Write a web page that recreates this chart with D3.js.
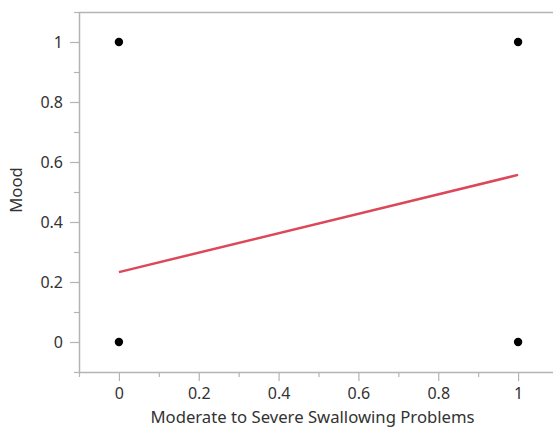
<!DOCTYPE html>
<html><head><meta charset="utf-8">
<script src="https://cdn.jsdelivr.net/npm/d3@7"></script>
<style>
body{margin:0;background:#fff;}
text{font-family:"Noto Sans","Open Sans",sans-serif;fill:#333;}
</style></head>
<body><svg id="c" width="553" height="433"></svg>
<script>
const xValues = [0, 0, 1, 1];
const yValues = [1, 0, 1, 0];
const fitX = [0, 1];
const fitY = [0.233, 0.557];
const xTicks = [0, 0.2, 0.4, 0.6, 0.8, 1];
const yTicks = [0, 0.2, 0.4, 0.6, 0.8, 1];
const minorTicks = [-0.1, 0.1, 0.3, 0.5, 0.7, 0.9, 1.1];
const xTitle = "Moderate to Severe Swallowing Problems";
const yTitle = "Mood";

const svg = d3.select("#c");
const L = 79, T = 12, B = 372;
const x = d3.scaleLinear().domain([-0.1, 1.1]).range([L, L + 479]);
const y = d3.scaleLinear().domain([-0.1, 1.1]).range([B, T]);
const axisColor = "#b4b4b4";
const tickFont = 16, titleFont = 16.7;

// frame top line
svg.append("line").attr("x1", L).attr("x2", 553).attr("y1", T + 0.5).attr("y2", T + 0.5)
  .attr("stroke", axisColor).attr("stroke-width", 1.5);

function styleAxis(g){
  g.select(".domain").attr("stroke", axisColor).attr("stroke-width", 1.5);
  g.selectAll(".tick line").attr("stroke", axisColor).attr("stroke-width", 1.2);
  g.selectAll("text").attr("font-size", tickFont).attr("fill", "#2a2a2a").attr("font-family", '"Noto Sans","Open Sans",sans-serif');
}

// minor ticks
const gyMinor = svg.append("g").attr("transform", `translate(${L},0)`)
  .call(d3.axisLeft(y).tickValues(minorTicks).tickSize(5).tickFormat(""));
gyMinor.select(".domain").remove();
gyMinor.selectAll(".tick line").attr("stroke", axisColor).attr("stroke-width", 1.2);
const gxMinor = svg.append("g").attr("transform", `translate(0,${B})`)
  .call(d3.axisBottom(x).tickValues(minorTicks).tickSize(5).tickFormat(""));
gxMinor.select(".domain").remove();
gxMinor.selectAll(".tick line").attr("stroke", axisColor).attr("stroke-width", 1.2);

const gy = svg.append("g").attr("transform", `translate(${L},0)`)
  .call(d3.axisLeft(y).tickValues(yTicks).tickSize(9).tickSizeOuter(0).tickPadding(7).tickFormat(d3.format("~g")));
styleAxis(gy);
const gx = svg.append("g").attr("transform", `translate(0,${B})`)
  .call(d3.axisBottom(x).tickValues(xTicks).tickSize(9).tickSizeOuter(0).tickPadding(7).tickFormat(d3.format("~g")));
styleAxis(gx);

// fit line
svg.append("path").datum(fitX.map((v, i) => [v, fitY[i]]))
  .attr("d", d3.line().x(d => x(d[0])).y(d => y(d[1])))
  .attr("stroke", "#dc4858").attr("stroke-width", 2.5).attr("fill", "none");

// points
svg.selectAll("circle.pt").data(xValues.map((v, i) => [v, yValues[i]])).join("circle")
  .attr("class", "pt").attr("cx", d => x(d[0])).attr("cy", d => y(d[1])).attr("r", 4.2).attr("fill", "#000");

svg.append("text").attr("x", x(0.5) - 6).attr("y", 423).attr("text-anchor", "middle")
  .attr("font-size", titleFont).attr("fill", "#2a2a2a").text(xTitle);
svg.append("text").attr("transform", `translate(22,${(T + B) / 2 - 2}) rotate(-90)`)
  .attr("text-anchor", "middle").attr("font-size", titleFont).attr("fill", "#2a2a2a").text(yTitle);
</script></body></html>
